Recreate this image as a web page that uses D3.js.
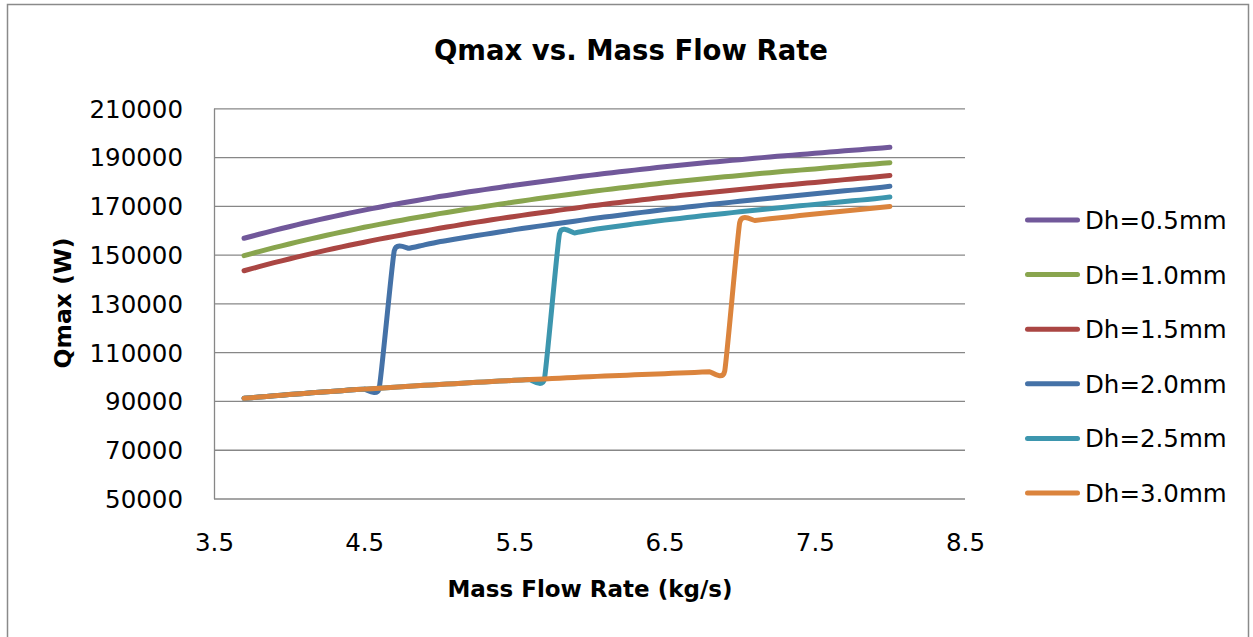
<!DOCTYPE html>
<html>
<head>
<meta charset="utf-8">
<script src="https://cdn.jsdelivr.net/npm/d3@7"></script>
<style>
  body { margin: 0; background: #fff; }
  text { font-family: "DejaVu Sans", sans-serif; fill: #000; }
</style>
</head>
<body>
<div id="chart-area"></div>
<script>
// mass flow rate (kg/s), shared by every series
var massFlow = [3.7, 3.8, 3.9,
    4.0, 4.1, 4.2, 4.3, 4.4, 4.5, 4.6, 4.7, 4.8, 4.9,
    5.0, 5.1, 5.2, 5.3, 5.4, 5.5, 5.6, 5.7, 5.8, 5.9,
    6.0, 6.1, 6.2, 6.3, 6.4, 6.5, 6.6, 6.7, 6.8, 6.9,
    7.0, 7.1, 7.2, 7.3, 7.4, 7.5, 7.6, 7.7, 7.8, 7.9,
    8.0];

// Qmax (W) for each hydraulic diameter
var dh05 = [156700, 158350, 159950,
    161450, 162950, 164350, 165700, 167000, 168250, 169450, 170600, 171700, 172750,
    173800, 174750, 175750, 176650, 177550, 178450, 179300, 180100, 180900, 181700,
    182500, 183250, 183950, 184650, 185350, 186050, 186650, 187250, 187850, 188400,
    188950, 189500, 190050, 190550, 191050, 191550, 192050, 192550, 193050, 193500,
    194000];
var dh10 = [149600, 151250, 152850,
    154350, 155850, 157250, 158600, 159900, 161200, 162400, 163550, 164700, 165750,
    166800, 167800, 168800, 169750, 170650, 171600, 172450, 173300, 174100, 174950,
    175800, 176550, 177300, 178000, 178750, 179450, 180100, 180700, 181350, 181900,
    182450, 183050, 183600, 184150, 184650, 185150, 185700, 186200, 186750, 187200,
    187700];
var dh15 = [143400, 145050, 146700,
    148200, 149700, 151150, 152500, 153850, 155100, 156350, 157500, 158650, 159700,
    160800, 161800, 162850, 163800, 164750, 165650, 166550, 167400, 168250, 169050,
    169900, 170650, 171400, 172100, 172850, 173550, 174200, 174850, 175500, 176100,
    176700, 177300, 177900, 178500, 179050, 179600, 180150, 180750, 181300, 181800,
    182400];
var dh20 = [91100, 91600, 92100,
    92600, 93100, 93550, 94000, 94450, 94850, 95250, 151600, 152600, 154000,
    155300, 156300, 157350, 158300, 159250, 160250, 161150, 162000, 162850, 163700,
    164600, 165400, 166150, 166950, 167700, 168450, 169150, 169850, 170550, 171200,
    171850, 172500, 173150, 173750, 174350, 174950, 175550, 176150, 176750, 177350,
    178000];
var dh25 = [91100, 91600, 92100,
    92600, 93100, 93550, 94000, 94450, 94850, 95250, 95650, 96050, 96400,
    96750, 97100, 97450, 97800, 98150, 98450, 98750, 99050, 158600, 158900,
    160000, 160950, 161750, 162600, 163400, 164150, 164850, 165550, 166250, 166900,
    167550, 168200, 168850, 169400, 170000, 170600, 171200, 171800, 172350, 172950,
    173600];
var dh30 = [91100, 91600, 92100,
    92600, 93100, 93550, 94000, 94450, 94850, 95250, 95650, 96050, 96400,
    96750, 97100, 97450, 97800, 98150, 98450, 98750, 99050, 99350, 99650,
    99950, 100200, 100450, 100700, 100950, 101200, 101450, 101700, 101950, 102150,
    163200, 164000, 164700, 165350, 166000, 166650, 167250, 167900, 168500, 169100,
    169700];

var seriesNames = ["Dh=0.5mm", "Dh=1.0mm", "Dh=1.5mm", "Dh=2.0mm", "Dh=2.5mm", "Dh=3.0mm"];
var seriesValues = [dh05, dh10, dh15, dh20, dh25, dh30];
var colors = ["#71589a", "#89a54e", "#aa4643", "#4572a7", "#3d96ae", "#db843d"];

var xTicks = [3.5, 4.5, 5.5, 6.5, 7.5, 8.5];
var yTicks = [50000, 70000, 90000, 110000, 130000, 150000, 170000, 190000, 210000];

var W = 1253, H = 637;
var plot = { left: 214, right: 965, top: 108.3, bottom: 498.5 };

var svg = d3.select("#chart-area")
    .append("svg")
    .attr("width", W)
    .attr("height", H);

// chart area frame
svg.append("rect")
    .attr("x", 7.5).attr("y", 4.5)
    .attr("width", 1241).attr("height", 660)
    .attr("fill", "none")
    .attr("stroke", "#8a8a8a")
    .attr("stroke-width", 1.5);

// Scales
var x = d3.scaleLinear()
    .domain([3.5, 8.5])
    .range([plot.left, plot.right]);

var y = d3.scaleLinear()
    .domain([50000, 210000])
    .range([plot.bottom, plot.top]);

// y axis + gridlines
var yAxisGroup = svg.append("g")
    .attr("transform", "translate(" + plot.left + ",0)")
    .call(d3.axisLeft(y)
        .tickValues(yTicks)
        .tickFormat(d3.format("d"))
        .tickSize(-(plot.right - plot.left))
        .tickSizeOuter(0)
        .tickPadding(31));

yAxisGroup.selectAll("line, path")
    .attr("stroke", "#878787")
    .attr("stroke-width", 1.3);
yAxisGroup.selectAll("text")
    .attr("font-size", "24.5px")
    .attr("font-family", "DejaVu Sans")
    .attr("dy", "0.36em");

// x axis
var xAxisGroup = svg.append("g")
    .attr("transform", "translate(0," + plot.bottom + ")")
    .call(d3.axisBottom(x)
        .tickValues(xTicks)
        .tickFormat(d3.format(".1f"))
        .tickSize(0)
        .tickPadding(35));

xAxisGroup.select(".domain").remove();
xAxisGroup.selectAll("text")
    .attr("font-size", "24.5px")
    .attr("font-family", "DejaVu Sans");

// lines (excel-like smoothing, short tangents)
var line = d3.line()
    .x(function(d) { return x(d[0]); })
    .y(function(d) { return y(d[1]); })
    .curve(d3.curveCardinal.tension(0.6));

seriesValues.forEach(function(vals, i) {
    var pts = massFlow.map(function(m, j) { return [m, vals[j]]; });
    svg.append("path")
        .datum(pts)
        .attr("d", line)
        .attr("fill", "none")
        .attr("stroke", colors[i])
        .attr("stroke-width", 5)
        .attr("stroke-linecap", "round")
        .attr("stroke-linejoin", "round");
});

// titles
svg.append("text")
    .attr("x", 631).attr("y", 60)
    .attr("text-anchor", "middle")
    .attr("font-size", "27.5px")
    .attr("font-weight", "bold")
    .text("Qmax vs. Mass Flow Rate");

svg.append("text")
    .attr("x", 590).attr("y", 597)
    .attr("text-anchor", "middle")
    .attr("font-size", "23px")
    .attr("font-weight", "bold")
    .text("Mass Flow Rate (kg/s)");

svg.append("text")
    .attr("transform", "translate(71,303) rotate(-90)")
    .attr("text-anchor", "middle")
    .attr("font-size", "23.5px")
    .attr("font-weight", "bold")
    .text("Qmax (W)");

// legend
var legend = svg.append("g");
var legendY = d3.scalePoint()
    .domain(seriesNames)
    .range([220, 493]);

seriesNames.forEach(function(name, i) {
    var ly = legendY(name);
    legend.append("line")
        .attr("x1", 1027.5).attr("x2", 1077.5)
        .attr("y1", ly).attr("y2", ly)
        .attr("stroke", colors[i])
        .attr("stroke-width", 5)
        .attr("stroke-linecap", "round");
    legend.append("text")
        .attr("x", 1085).attr("y", ly + 9)
        .attr("font-size", "24.5px")
        .text(name);
});
</script>
</body>
</html>
